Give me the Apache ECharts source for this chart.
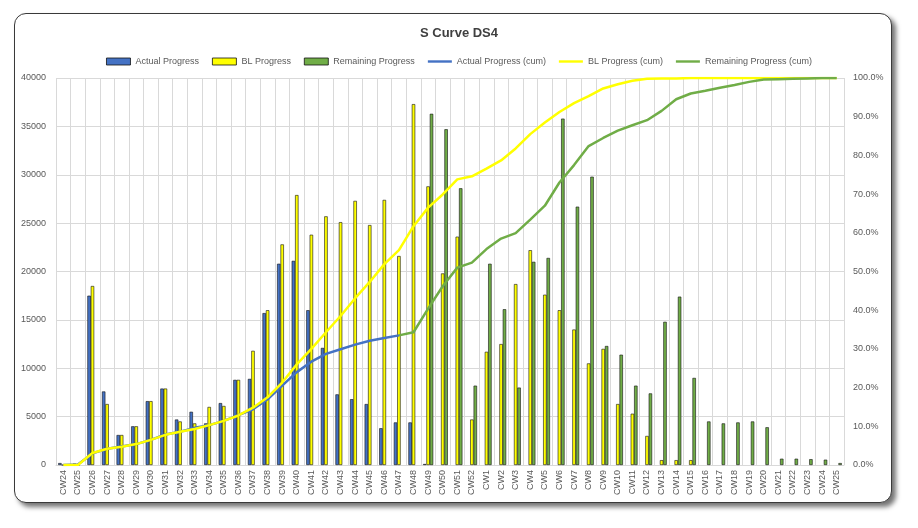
<!DOCTYPE html>
<html>
<head>
<meta charset="utf-8">
<script src="https://cdn.jsdelivr.net/npm/echarts@6/dist/echarts.min.js"></script>
<style>
  html, body { margin: 0; padding: 0; background: #fff; }
  #frame {
    position: absolute; left: 14px; top: 13px; width: 876px; height: 488px;
    border: 1px solid #3a3a3a; border-radius: 12px;
    box-shadow: 4px 4px 5px rgba(0, 0, 0, 0.55); background: #fff;
  }
  #chart { position: absolute; left: 0; top: 0; width: 918px; height: 528px; }
</style>
</head>
<body>
<div id="frame"></div>
<div id="chart"></div>
<script>
// week labels
const weeks = [
  'CW24', 'CW25', 'CW26', 'CW27', 'CW28', 'CW29', 'CW30', 'CW31', 'CW32', 'CW33',
  'CW34', 'CW35', 'CW36', 'CW37', 'CW38', 'CW39', 'CW40', 'CW41', 'CW42', 'CW43',
  'CW44', 'CW45', 'CW46', 'CW47', 'CW48', 'CW49', 'CW50', 'CW51', 'CW52',
  'CW1', 'CW2', 'CW3', 'CW4', 'CW5', 'CW6', 'CW7', 'CW8', 'CW9', 'CW10',
  'CW11', 'CW12', 'CW13', 'CW14', 'CW15', 'CW16', 'CW17', 'CW18', 'CW19', 'CW20',
  'CW21', 'CW22', 'CW23', 'CW24', 'CW25'
];

// weekly values (left axis)
const actualProgress = [
  200, 150, 17500, 7600, 3100, 4000, 6600, 7900, 4700, 5500,
  4300, 6400, 8800, 8900, 15700, 20800, 21100, 16000, 12100, 7300,
  6800, 6300, 3800, 4400, 4400, 100, null, null, null,
  null, null, null, null, null, null, null, null, null, null,
  null, null, null, null, null, null, null, null, null, null,
  null, null, null, null, null
];
const blProgress = [
  0, 0, 18500, 6300, 3100, 4000, 6600, 7900, 4500, 4300,
  6000, 6100, 8800, 11800, 16000, 22800, 27900, 23800, 25700, 25100,
  27300, 24800, 27400, 21600, 37300, 28800, 19800, 23600, 4700,
  11700, 12500, 18700, 22200, 17600, 16000, 14000, 10500, 12000, 6300,
  5300, 3000, 500, 500, 500, null, null, null, null, null,
  null, null, null, null, null
];
const remainingProgress = [
  null, null, null, null, null, null, null, null, null, null,
  null, null, null, null, null, null, null, null, null, null,
  null, null, null, null, null, 36300, 34700, 28600, 8200,
  20800, 16100, 8000, 21000, 21400, 35800, 26700, 29800, 12300, 11400,
  8200, 7400, 14800, 17400, 9000, 4500, 4300, 4400, 4500, 3900,
  650, 650, 600, 550, 200
];

// cumulative percentages (right axis)
const actualCum = [
  0.0, 0.1, 3.0, 4.2, 4.8, 5.4, 6.5, 7.9, 8.6, 9.6,
  10.3, 11.4, 12.9, 14.4, 17.0, 20.5, 24.0, 26.7, 28.7, 29.9,
  31.1, 32.1, 32.8, 33.5, null, null, null, null, null,
  null, null, null, null, null, null, null, null, null, null,
  null, null, null, null, null, null, null, null, null, null,
  null, null, null, null, null
];
const blCum = [
  0.0, 0.0, 3.1, 4.2, 4.7, 5.4, 6.5, 7.8, 8.6, 9.3,
  10.3, 11.4, 12.8, 14.8, 17.5, 21.3, 26.0, 30.0, 34.3, 38.5,
  43.1, 47.3, 51.9, 55.5, 61.7, 66.5, 69.9, 73.8, 74.6,
  76.6, 78.7, 81.8, 85.5, 88.5, 91.2, 93.5, 95.3, 97.3, 98.4,
  99.3, 99.8, 99.9, 99.9, 100, 100, 100, 100, 100, 100,
  100, 100, 100, 100, 100
];
const remainingCum = [
  null, null, null, null, null, null, null, null, null, null,
  null, null, null, null, null, null, null, null, null, null,
  null, null, null, 33.5, 34.3, 40.4, 46.2, 51.0, 52.3,
  55.8, 58.5, 59.9, 63.4, 67.0, 73.0, 77.5, 82.4, 84.5, 86.4,
  87.8, 89.1, 91.5, 94.5, 96.0, 96.7, 97.5, 98.2, 99.0, 99.6,
  99.7, 99.8, 99.9, 100, 100
];

const leftTicks = { min: 0, max: 40000, interval: 5000 };
const rightTicks = { min: 0, max: 100, interval: 10 };

const FONT = 'Liberation Sans, Arial, sans-serif';
const GRID = '#d9d9d9';
const LABEL = '#595959';
const LINE_ICON = 'path://M0,0 L24,0 L24,2.4 L0,2.4 Z';

let myChart = echarts.init(document.getElementById('chart'));

function barSeries(name, data, color) {
  return {
    name: name,
    type: 'bar',
    data: data,
    barGap: '0%',
    barCategoryGap: '30%',
    itemStyle: { color: color, borderColor: '#111', borderWidth: 0.6 }
  };
}

function lineSeries(name, data, color) {
  return {
    name: name,
    type: 'line',
    yAxisIndex: 1,
    data: data,
    symbol: 'none',
    connectNulls: false,
    lineStyle: { color: color, width: 2.5 },
    itemStyle: { color: color }
  };
}

let option = {
  animation: false,
  backgroundColor: 'transparent',
  textStyle: { fontFamily: FONT },
  title: {
    text: 'S Curve DS4',
    left: 'center',
    top: 22,
    textStyle: { color: '#404040', fontSize: 13, fontWeight: 'bold', fontFamily: FONT }
  },
  legend: {
    top: 52,
    left: 'center',
    itemWidth: 24,
    itemHeight: 7,
    itemGap: 13,
    textStyle: { color: LABEL, fontSize: 9, fontFamily: FONT },
    data: [
      { name: 'Actual Progress', icon: 'rect', itemStyle: { borderWidth: 0.8 } },
      { name: 'BL Progress', icon: 'rect', itemStyle: { borderWidth: 0.8 } },
      { name: 'Remaining Progress', icon: 'rect', itemStyle: { borderWidth: 0.8 } },
      { name: 'Actual Progress (cum)', icon: LINE_ICON },
      { name: 'BL Progress (cum)', icon: LINE_ICON },
      { name: 'Remaining Progress (cum)', icon: LINE_ICON }
    ]
  },
  grid: { left: 56, right: 74, top: 78, bottom: 63 },
  xAxis: {
    type: 'category',
    data: weeks,
    axisLine: { show: true, lineStyle: { color: GRID } },
    axisTick: { show: false },
    splitLine: { show: true, interval: 0, lineStyle: { color: GRID, width: 1 } },
    axisLabel: { interval: 0, rotate: 90, color: LABEL, fontSize: 9, margin: 5, fontFamily: FONT }
  },
  yAxis: [
    {
      type: 'value',
      min: leftTicks.min,
      max: leftTicks.max,
      interval: leftTicks.interval,
      axisLine: { show: false },
      axisTick: { show: false },
      splitLine: { show: true, lineStyle: { color: GRID, width: 1 } },
      axisLabel: {
        color: LABEL, fontSize: 9, margin: 10, fontFamily: FONT,
        formatter: function (v) { return String(v); }
      }
    },
    {
      type: 'value',
      min: rightTicks.min,
      max: rightTicks.max,
      interval: rightTicks.interval,
      axisLine: { show: false },
      axisTick: { show: false },
      splitLine: { show: false },
      axisLabel: {
        color: LABEL, fontSize: 9, margin: 9, fontFamily: FONT,
        formatter: function (v) { return v.toFixed(1) + '%'; }
      }
    }
  ],
  series: [
    barSeries('Actual Progress', actualProgress, '#4472C4'),
    barSeries('BL Progress', blProgress, '#FFFF00'),
    barSeries('Remaining Progress', remainingProgress, '#70AD47'),
    lineSeries('Actual Progress (cum)', actualCum, '#4472C4'),
    lineSeries('BL Progress (cum)', blCum, '#FFFF00'),
    lineSeries('Remaining Progress (cum)', remainingCum, '#70AD47')
  ]
};

myChart.setOption(option);
</script>
</body>
</html>
